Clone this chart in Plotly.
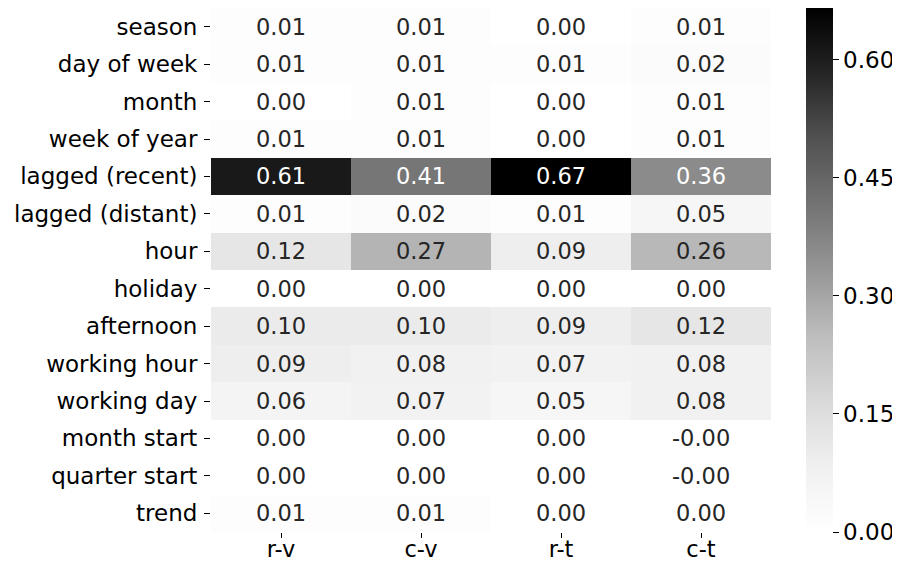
import plotly.graph_objects as go

features = ["season", "day of week", "month", "week of year", "lagged (recent)",
            "lagged (distant)", "hour", "holiday", "afternoon", "working hour",
            "working day", "month start", "quarter start", "trend"]
models = ["r-v", "c-v", "r-t", "c-t"]

r_v = [0.01, 0.01, 0.00, 0.01, 0.61, 0.01, 0.12, 0.00, 0.10, 0.09, 0.06, 0.00, 0.00, 0.01]
c_v = [0.01, 0.01, 0.01, 0.01, 0.41, 0.02, 0.27, 0.00, 0.10, 0.08, 0.07, 0.00, 0.00, 0.01]
r_t = [0.00, 0.01, 0.00, 0.00, 0.666, 0.01, 0.09, 0.00, 0.09, 0.07, 0.05, 0.00, 0.00, 0.00]
c_t = [0.01, 0.02, 0.01, 0.01, 0.36, 0.05, 0.26, 0.00, 0.12, 0.08, 0.08, -0.001, -0.001, 0.00]

cbar_ticks = [0.00, 0.15, 0.30, 0.45, 0.60]

# matplotlib "Greys"
greys = ["#ffffff", "#f0f0f0", "#d9d9d9", "#bdbdbd", "#969696",
         "#737373", "#525252", "#252525", "#000000"]
colorscale = [[i / (len(greys) - 1), c] for i, c in enumerate(greys)]

columns = [r_v, c_v, r_t, c_t]
z = [[col[i] for col in columns] for i in range(len(features))]
zmax = max(max(col) for col in columns)

fig = go.Figure(go.Heatmap(
    z=z, x=models, y=features,
    colorscale=colorscale, zmin=0, zmax=zmax,
    colorbar=dict(thickness=27, len=1, y=0.5, yanchor="middle", ypad=0, xpad=0,
                  x=1.0625, xanchor="left", outlinewidth=0,
                  ticks="outside", ticklen=6, tickwidth=1, tickcolor="black",
                  tickvals=cbar_ticks, ticktext=[f"{t:.2f}" for t in cbar_ticks],
                  tickfont=dict(size=23, color="black")),
))

# cell annotations
for i, feat in enumerate(features):
    for j, m in enumerate(models):
        v = z[i][j]
        fig.add_annotation(x=m, y=feat, text=f"{v:.2f}", showarrow=False,
                           font=dict(size=22.5,
                                     color="white" if v / zmax > 0.45 else "#262626"))

# page body has an 8px margin, so the figure is a bit smaller than the window
fig.update_layout(
    width=892, height=557,
    margin=dict(l=203, r=129, t=0, b=33, autoexpand=False),
    paper_bgcolor="white", plot_bgcolor="white",
    font=dict(family="DejaVu Sans", size=23, color="black"),
)
fig.update_xaxes(showgrid=False, zeroline=False, ticks="outside", ticklen=5,
                 tickcolor="black", tickfont=dict(size=22.5),
                 ticklabelstandoff=-8)
fig.update_yaxes(showgrid=False, zeroline=False, ticks="outside", ticklen=6,
                 tickcolor="black", autorange="reversed", tickfont=dict(size=23),
                 ticklabelstandoff=2)

fig.write_html("out.html")
